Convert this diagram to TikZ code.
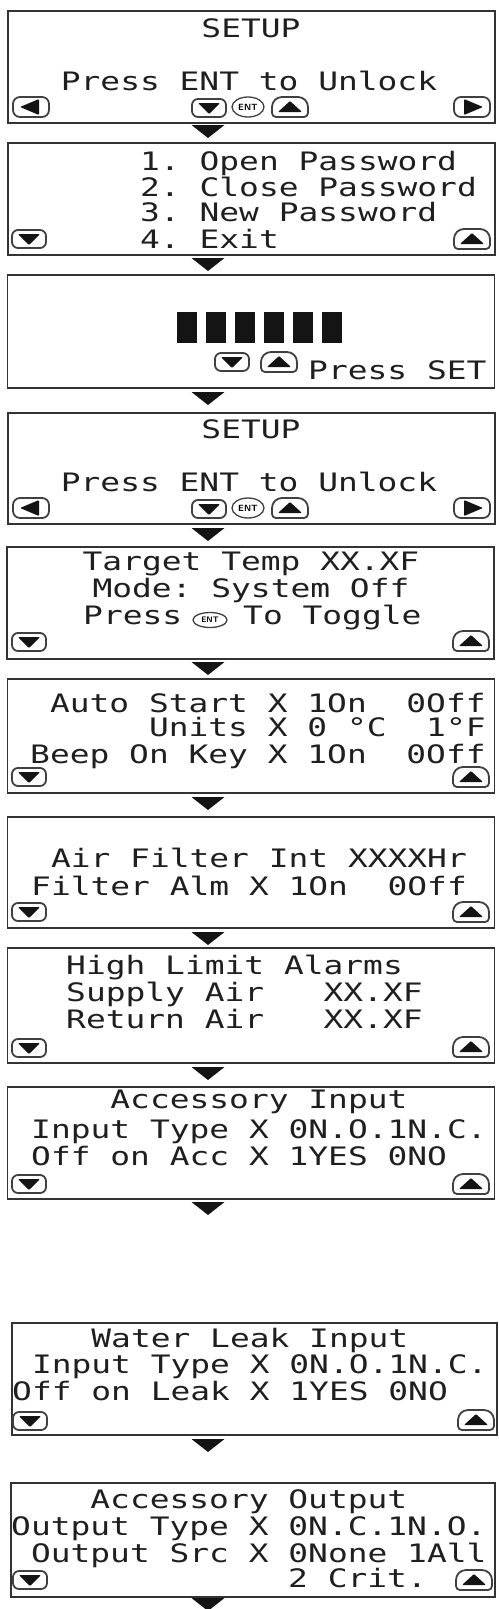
\documentclass[tikz,border=0pt]{standalone}
\usepackage{fontspec}
\newfontfamily\lcd[FakeStretch=1.295]{DejaVu Sans Mono}
\tikzset{
 screen/.style={draw=black!80, line width=1.4pt, minimum width=487pt, minimum height=112pt, inner sep=0pt},
 lcdtxt/.style={font=\lcd\fontsize{25.4}{30}\selectfont, inner sep=0pt, text=black!88},
 ln/.style={lcdtxt, anchor=base west},
 lc/.style={lcdtxt, anchor=base},
 btnframe/.style={draw=black!75, line width=1.8pt, fill=white},
 tipfill/.style={fill=black!92},
}
\newcommand\dtri[2]{\fill[tipfill] (#1-16.5,#2) -- (#1+16.5,#2) -- (#1,#2+13) -- cycle;}
\newcommand\dnbtn[2]{%
 \draw[btnframe,rounded corners=6pt] (#1-17,#2-9) rectangle (#1+17,#2+9);
 \fill[tipfill,rounded corners=1pt] (#1-11,#2-5) -- (#1+11,#2-5) -- (#1,#2+6) -- cycle;}
\newcommand\upbtn[2]{%
 \draw[btnframe] (#1-18,#2+10) [rounded corners=4pt] -- (#1+18,#2+10) [rounded corners=10pt] -- (#1+18,#2-10) -- (#1-18,#2-10) [rounded corners=4pt] -- cycle;
 \fill[tipfill,rounded corners=1pt] (#1-12,#2+5) -- (#1+12,#2+5) -- (#1,#2-6) -- cycle;}
\newcommand\lfbtn[2]{%
 \draw[btnframe,rounded corners=7pt] (#1-18,#2-10) rectangle (#1+18,#2+10);
 \fill[tipfill,rounded corners=1pt] (#1-11,#2) -- (#1+8,#2-8) -- (#1+8,#2+8) -- cycle;}
\newcommand\rtbtn[2]{%
 \draw[btnframe,rounded corners=7pt] (#1-18,#2-10) rectangle (#1+18,#2+10);
 \fill[tipfill,rounded corners=1pt] (#1+11,#2) -- (#1-8,#2-8) -- (#1-8,#2+8) -- cycle;}
\newcommand\entbtn[5]{%
 \draw[btnframe,line width=1.3pt] (#1,#2) ellipse [x radius=#3pt, y radius=#4pt];
 \node[inner sep=0pt,font=\sffamily\bfseries\fontsize{#5}{#5}\selectfont] at (#1,#2) {ENT};}
\begin{document}
\begin{tikzpicture}[x=1pt,y=-1pt]
\fill[white] (0,0) rectangle (498,1609);
\useasboundingbox (0,0) rectangle (498,1609);
\clip (0,0) rectangle (498,1609);
% boxes
\node[screen] (b1) at (251.5,67) {};
\node[screen] (b2) at (251.5,199) {};
\node[screen,minimum height=113pt] (b3) at (251,331.5) {};
\node[screen,minimum height=111pt] (b4) at (251.5,468.5) {};
\node[screen] (b5) at (250.5,603) {};
\node[screen,minimum height=114pt] (b6) at (251,736) {};
\node[screen,minimum height=111pt] (b7) at (251,872.5) {};
\node[screen,minimum height=115pt] (b8) at (251,1005.5) {};
\node[screen] (b9) at (251,1143) {};
\node[screen,minimum width=485pt] (b10) at (254.5,1379) {};
\node[screen,minimum width=484pt,minimum height=114pt] (b11) at (253,1540) {};
% flow triangles
\dtri{208}{125}
\dtri{208}{258}
\dtri{208}{392}
\dtri{208}{528}
\dtri{208}{662}
\dtri{208}{797}
\dtri{208}{932}
\dtri{208}{1067}
\dtri{208}{1202}
\dtri{208}{1439}
\dtri{208}{1598}
% box 1
\node[lc] (t1a) at (251,37) {SETUP};
\node[lc] (t1b) at (249,90) {Press~ENT~to~Unlock};
\lfbtn{31}{107} \dnbtn{209}{108} \entbtn{248}{107}{16}{10}{9} \upbtn{290}{107} \rtbtn{472}{107}
% box 2
\node[ln] (t2a) at (140,170) {1.~Open~Password};
\node[ln] (t2b) at (140,196) {2.~Close~Password};
\node[ln] (t2c) at (140,221) {3.~New~Password};
\node[ln] (t2d) at (140,248) {4.~Exit};
\dnbtn{29}{239} \upbtn{472}{239}
% box 3
\foreach \xx in {177,206,235,264,293,322} {\fill[tipfill] (\xx,312) rectangle (\xx+20,343);}
\dnbtn{232}{362} \upbtn{279}{362}
\node[ln] (t3a) at (308,379) {Press~SET};
% box 4
\node[lc] (t4a) at (251,438) {SETUP};
\node[lc] (t4b) at (249,491) {Press~ENT~to~Unlock};
\lfbtn{31}{508} \dnbtn{209}{509} \entbtn{248}{508}{16}{10}{9} \upbtn{290}{508} \rtbtn{472}{508}
% box 5
\node[lc] (t5a) at (251,570) {Target~Temp~XX.XF};
\node[lc] (t5b) at (251,597) {Mode:~System~Off};
\node[ln] (t5c) at (83,624) {Press};
\entbtn{210}{620}{17}{7.5}{8}
\node[ln] (t5d) at (243,624) {To~Toggle};
\dnbtn{29}{642} \upbtn{471}{641}
% box 6
\node[ln] (t6a) at (30,712) {~Auto~Start~X~1On~~0Off};
\node[ln] (t6b) at (148.8,736) {Units~X~0~°C~~1°F};
\node[ln] (t6c) at (30,763) {Beep~On~Key~X~1On~~0Off};
\dnbtn{29}{777} \upbtn{471}{777}
% box 7
\node[ln] (t7a) at (31,867) {~Air~Filter~Int~XXXXHr};
\node[ln] (t7b) at (31,895) {Filter~Alm~X~1On~~0Off};
\dnbtn{29}{912} \upbtn{471}{912}
% box 8
\node[ln] (t8a) at (66,974) {High~Limit~Alarms};
\node[ln] (t8b) at (66,1001) {Supply~Air~~~XX.XF};
\node[ln] (t8c) at (66,1028) {Return~Air~~~XX.XF};
\dnbtn{29}{1048} \upbtn{471}{1047}
% box 9
\node[ln] (t9a) at (31,1108) {~~~~Accessory~Input};
\node[ln] (t9b) at (31,1138) {Input~Type~X~0N.O.1N.C.};
\node[ln] (t9c) at (31,1165) {Off~on~Acc~X~1YES~0NO};
\dnbtn{29}{1184} \upbtn{471}{1184}
% box 10
\node[ln] (t10a) at (12,1347) {~~~~Water~Leak~Input};
\node[ln] (t10b) at (12,1373) {~Input~Type~X~0N.O.1N.C.};
\node[ln] (t10c) at (12,1400) {Off~on~Leak~X~1YES~0NO};
\dnbtn{30}{1421} \upbtn{476}{1420}
% box 11
\node[ln] (t11a) at (11,1508) {~~~~Accessory~Output};
\node[ln] (t11b) at (11,1535) {Output~Type~X~0N.C.1N.O.};
\node[ln] (t11c) at (11,1562) {~Output~Src~X~0None~1All};
\node[ln] (t11d) at (288,1587) {2~Crit.};
\dnbtn{30}{1580} \upbtn{474}{1580}
\end{tikzpicture}
\end{document}
